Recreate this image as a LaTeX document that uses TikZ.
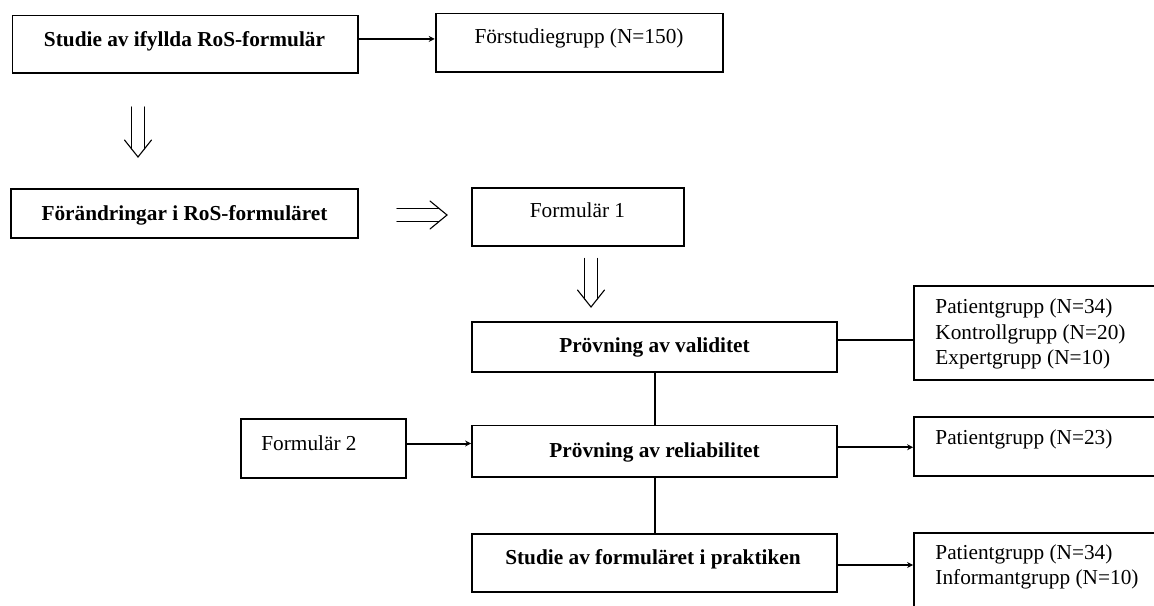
\documentclass[tikz,border=0pt]{standalone}
\usepackage{fontspec}
\setmainfont{Liberation Serif}
\usetikzlibrary{arrows.meta}
\begin{document}
\begin{tikzpicture}[x=0.5pt,y=-0.5pt,
  bx/.style={draw, line width=0.9pt, inner sep=0pt, anchor=center},
  tx/.style={inner sep=0pt, anchor=base, font=\fontsize{10.65}{12.8}\selectfont},
  txb/.style={tx, font=\fontsize{10.65}{12.8}\selectfont\bfseries},
  txl/.style={inner sep=0pt, anchor=west, align=left, font=\fontsize{10.65}{12.8}\selectfont},
  conn/.style={line width=1pt},
  arr/.style={conn, -{Stealth[length=3pt,width=3pt]}},
  dbl/.style={line width=0.55pt, line cap=round, line join=miter}]
\useasboundingbox (0,0) rectangle (1154,605);
\clip (0,0) rectangle (1154,605);
\fill[white] (0,0) rectangle (1154,605);

% boxes
\node[bx, minimum width=172.75pt, minimum height=28.95pt] (A) at (185.25,44.35) {};
\node[bx, minimum width=143.5pt, minimum height=29.3pt] (B) at (579.1,42.8) {};
\node[bx, minimum width=173.5pt, minimum height=24.5pt] (C) at (184.5,213.5) {};
\node[bx, minimum width=106pt, minimum height=29pt] (D) at (578,217) {};
\node[bx, minimum width=182.5pt, minimum height=25pt] (E) at (654.5,347) {};
\node[bx, minimum width=130.5pt, minimum height=47pt] (F) at (1044.5,333) {};
\node[bx, minimum width=82.5pt, minimum height=29.5pt] (G) at (323.5,448.5) {};
\node[bx, minimum width=182.5pt, minimum height=25.75pt] (H) at (654.5,451.25) {};
\node[bx, minimum width=130.5pt, minimum height=29.5pt] (I) at (1044.5,446.5) {};
\node[bx, minimum width=182.5pt, minimum height=29pt] (J) at (654.5,563) {};
\node[bx, minimum width=130.5pt, minimum height=38pt] (K) at (1044.5,571) {};

% texts
\node[txb] (tA) at (184.5,46) {Studie av ifyllda RoS-formulär};
\node[tx] (tB) at (579,43) {Förstudiegrupp (N=150)};
\node[txb] (tC) at (184.5,220) {Förändringar i RoS-formuläret};
\node[tx] (tD) at (577.5,217) {Formulär 1};
\node[txb] (tE) at (654.5,352) {Prövning av validitet};
\node[txl] (tF) at (935,334) {Patientgrupp (N=34)\\Kontrollgrupp (N=20)\\Expertgrupp (N=10)};
\node[tx] (tG) at (309,450.5) {Formulär 2};
\node[txb] (tH) at (654.5,457) {Prövning av reliabilitet};
\node[tx, anchor=base west] (tI) at (935,444) {Patientgrupp (N=23)};
\node[txb] (tJ) at (653,564) {Studie av formuläret i praktiken};
\node[txl] (tK) at (935,567) {Patientgrupp (N=34)\\Informantgrupp (N=10)};

% connectors
\draw[arr] ([yshift=2.7pt]A.east) -- ([yshift=2.7pt]A.east -| B.west);
\draw[conn] ([yshift=3.5pt]E.east) -- ([yshift=3.5pt]E.east -| F.west);
\draw[arr] ([yshift=2.5pt]G.east) -- ([yshift=2.5pt]G.east -| H.west);
\draw[arr] ([yshift=2pt]H.east) -- ([yshift=2pt]H.east -| I.west);
\draw[arr] ([yshift=-1pt]J.east) -- ([yshift=-1pt]J.east -| K.west);
\draw[conn] (E.south) -- (H.north);
\draw[conn] (H.south) -- (J.north);

% double arrows
\coordinate (a1s) at (138,107);
\coordinate (a1e) at (138,157);
\draw[dbl] ([xshift=-3.25pt]a1s) -- ([xshift=-3.25pt,yshift=4pt]a1e);
\draw[dbl] ([xshift=3.25pt]a1s) -- ([xshift=3.25pt,yshift=4pt]a1e);
\draw[dbl] ([xshift=-6.75pt,yshift=8.5pt]a1e) -- (a1e) -- ([xshift=6.75pt,yshift=8.5pt]a1e);

\coordinate (a2s) at (397,215);
\coordinate (a2e) at (447,215);
\draw[dbl] ([yshift=3.25pt]a2s) -- ([yshift=3.25pt,xshift=-4pt]a2e);
\draw[dbl] ([yshift=-3.25pt]a2s) -- ([yshift=-3.25pt,xshift=-4pt]a2e);
\draw[dbl] ([xshift=-8.5pt,yshift=7pt]a2e) -- (a2e) -- ([xshift=-8.5pt,yshift=-7pt]a2e);

\coordinate (a3s) at (591,258.5);
\coordinate (a3e) at (591,307);
\draw[dbl] ([xshift=-3.25pt]a3s) -- ([xshift=-3.25pt,yshift=4pt]a3e);
\draw[dbl] ([xshift=3.25pt]a3s) -- ([xshift=3.25pt,yshift=4pt]a3e);
\draw[dbl] ([xshift=-6.75pt,yshift=8.5pt]a3e) -- (a3e) -- ([xshift=6.75pt,yshift=8.5pt]a3e);
\end{tikzpicture}
\end{document}
